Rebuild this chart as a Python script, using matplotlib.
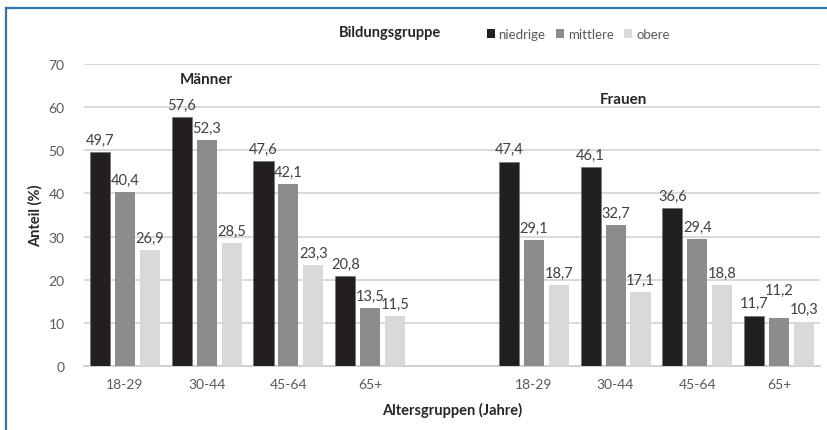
import matplotlib
matplotlib.use("Agg")
import matplotlib.pyplot as plt
from matplotlib.lines import Line2D
from matplotlib.patches import Patch
import numpy as np

plt.rcParams['font.family'] = ['Lato', 'DejaVu Sans']

age_groups = ["18-29", "30-44", "45-64", "65+"]
education = ["niedrige", "mittlere", "obere"]

men_low = [49.7, 57.6, 47.6, 20.8]
men_mid = [40.4, 52.3, 42.1, 13.5]
men_high = [26.9, 28.5, 23.3, 11.5]

women_low = [47.4, 46.1, 36.6, 11.7]
women_mid = [29.1, 32.7, 29.4, 11.2]
women_high = [18.7, 17.1, 18.8, 10.3]

colors = ["#231f20", "#8c8c8e", "#d9d9db"]
text_gray = "#595959"

fig = plt.figure(figsize=(8.28, 4.31), dpi=100)
ax = fig.add_axes([84 / 828, 1 - 367 / 431, (820 - 84) / 828, (367 - 65) / 431])

# men at positions 0..3, women at 5..8 (one empty slot between the panels)
pos_men = np.arange(4)
pos_women = np.arange(4) + 5
bw = 0.245
step = 0.305

# extra lift for crowded value labels: (series index, x position) -> data units
label_lift = {(1, 8): 3.6}

series = [(men_low, women_low), (men_mid, women_mid), (men_high, women_high)]
for i, (m, w) in enumerate(series):
    off = (i - 1) * step
    for pos, vals in ((pos_men, m), (pos_women, w)):
        bars = ax.bar(pos + off, vals, width=bw, color=colors[i], zorder=3,
                      edgecolor="#6e6e6e" if i == 0 else "none", linewidth=0.4)
        for p, b, v in zip(pos, bars, vals):
            lift = label_lift.get((i, int(p)), 0.0)
            ax.text(b.get_x() + b.get_width() / 2, v + 1.2 + lift, f"{v:.1f}".replace(".", ","),
                    ha="center", va="bottom", fontsize=10.5, color="#404040", zorder=4)

ax.set_xlim(-0.5, 8.5)
ax.set_ylim(0, 70)
ax.set_yticks(range(0, 71, 10))
ax.set_xticks(np.concatenate([pos_men, pos_women]))
ax.set_xticklabels(age_groups + age_groups)
ax.tick_params(axis="both", length=0, labelsize=10, labelcolor=text_gray)
ax.tick_params(axis="x", pad=9)
ax.tick_params(axis="y", pad=14)
ax.grid(axis="y", color="#d9d9d9", linewidth=1.4, zorder=0)
ax.set_axisbelow(True)
for s in ("top", "right", "left"):
    ax.spines[s].set_visible(False)
ax.spines["bottom"].set_color("#d0d0d0")
ax.spines["bottom"].set_linewidth(1.4)

ax.set_ylabel("Anteil (%)", fontsize=10.5, fontweight="bold", color="#262626", labelpad=4)
ax.set_xlabel("Altersgruppen (Jahre)", fontsize=10.5, fontweight="bold", color="#262626", labelpad=8)

ax.text(1.0, 66.5, "Männer", ha="center", va="center", fontsize=11, fontweight="bold", color="#262626")
ax.text(6.1, 61.8, "Frauen", ha="center", va="center", fontsize=11, fontweight="bold", color="#262626")

fig.text(390 / 828, 1 - 33 / 431, "Bildungsgruppe", ha="center", va="center",
         fontsize=10.5, fontweight="bold", color="#262626")
handles = [Patch(facecolor=c, edgecolor="none") for c in colors]
fig.legend(handles, education, loc="center left", bbox_to_anchor=(480 / 828, 1 - 35 / 431),
           ncol=3, frameon=False, fontsize=9.5, labelcolor=text_gray,
           handlelength=0.6, handleheight=0.6, handletextpad=0.3, columnspacing=0.8,
           borderpad=0)

# blue frame lines along the top and left edges
fig.add_artist(Line2D([6 / 828, 6 / 828], [0, 1 - 9 / 431], transform=fig.transFigure,
                      color="#2e75b6", linewidth=1.6))
fig.add_artist(Line2D([6 / 828, 1], [1 - 9 / 431, 1 - 9 / 431], transform=fig.transFigure,
                      color="#2e75b6", linewidth=1.6))

fig.savefig("out.png", dpi=100)
